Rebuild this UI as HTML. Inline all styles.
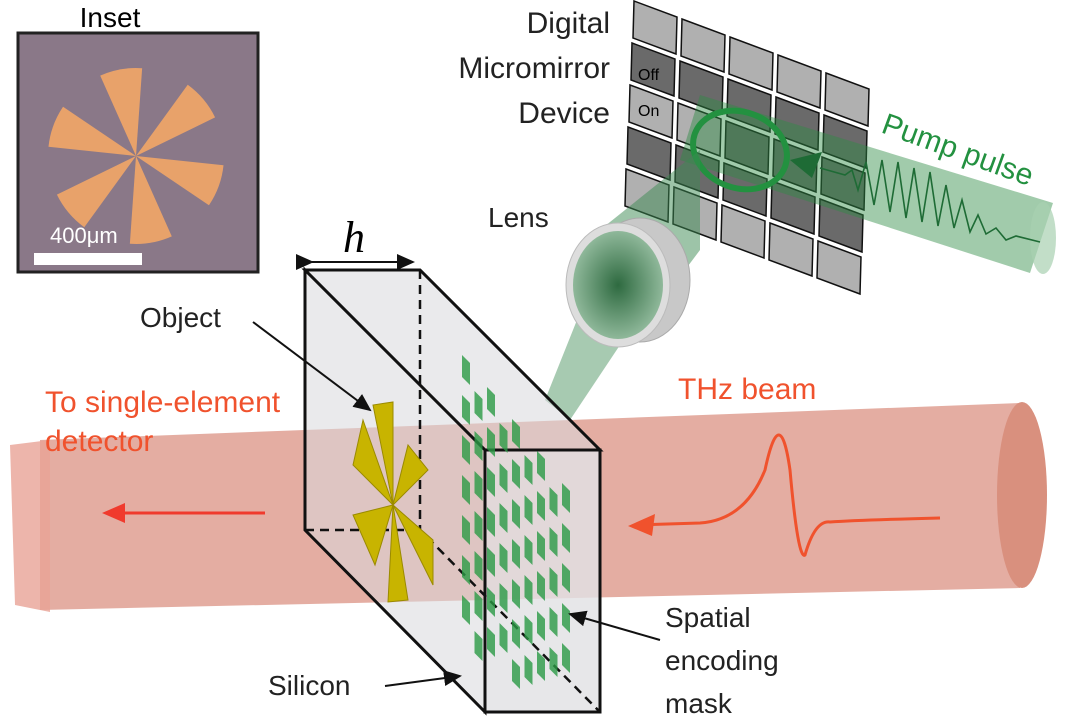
<!DOCTYPE html>
<html><head><meta charset="utf-8"><style>
body{margin:0;background:#fff;width:1070px;height:716px;overflow:hidden}
svg{display:block;font-family:"Liberation Sans",sans-serif}
</style></head><body>
<svg width="1070" height="716" viewBox="0 0 1070 716">
<defs>
<radialGradient id="lensg" cx="0.5" cy="0.5" r="0.5"><stop offset="0" stop-color="#2e6a40"/><stop offset="1" stop-color="#8fb89a"/></radialGradient>
<marker id="ak" markerWidth="10" markerHeight="10" refX="8" refY="5" orient="auto"><path d="M0,1 L9,5 L0,9 z" fill="#111"/></marker>
</defs>

<!-- Inset -->
<g>
<text x="110" y="27" font-size="28" text-anchor="middle">Inset</text>
<rect x="18" y="33" width="240" height="239" fill="#8a7888" stroke="#222" stroke-width="3"/>
<g id="insetBlades" fill="#e8a26a"></g>
<text x="50" y="243" font-size="22" fill="#fff">400μm</text>
<rect x="34" y="253" width="108" height="12" fill="#fff"/>
</g>

<!-- DMD labels -->
<g font-size="30" text-anchor="end" fill="#222">
<text x="610" y="33">Digital</text><text x="610" y="78">Micromirror</text><text x="610" y="123">Device</text>
</g>

<g id="dmd"></g>

<!-- pump beam -->
<path d="M700,95 L1053,203 L1030,273 L680,160 Z" fill="#2e8b45" opacity="0.45"/>
<ellipse cx="1043" cy="238" rx="13" ry="36" fill="#a8d0b0" opacity="0.7"/>
<path d="M820,168 L845,175 L852,170 858,190 866,162 874,205 882,160 890,212 898,162 906,218 914,168 922,222 930,172 938,226 946,185 954,228 962,200 970,232 978,215 986,234 996,228 1006,240 1016,236 1040,242" fill="none" stroke="#1e6b35" stroke-width="1.6"/>
<path d="M790,160 L822,152 L812,178 Z" fill="#1e6b35"/>
<ellipse cx="740" cy="150" rx="48" ry="38" transform="rotate(20 740 150)" fill="none" stroke="#239140" stroke-width="6"/>
<text x="880" y="132" font-size="30" fill="#239140" transform="rotate(20 880 132)">Pump pulse</text>

<!-- lens + cone -->
<path d="M600,230 L700,150 L700,250 L640,330 Z" fill="#3c8a52" opacity="0.5"/>
<path d="M585,300 L650,300 L570,420 L545,400 Z" fill="#3c8a52" opacity="0.45"/>
<ellipse cx="640" cy="280" rx="50" ry="62" fill="#c8c8c8" stroke="#aaa"/>
<ellipse cx="618" cy="285" rx="52" ry="62" fill="#ddd" stroke="#bbb"/>
<ellipse cx="618" cy="285" rx="45" ry="54" fill="url(#lensg)"/>
<text x="488" y="227" font-size="28" fill="#222">Lens</text>

<!-- THz beam -->
<path d="M40,440 L1020,403 L1020,588 L40,610 Z" fill="#d98a7a" opacity="0.7"/>
<ellipse cx="1022" cy="495" rx="25" ry="93" fill="#d9907e"/>
<path d="M10,445 L50,440 L50,612 L15,605 Z" fill="#e8a296" opacity="0.8"/>
<text x="678" y="399" font-size="30" fill="#f0522d">THz beam</text>
<text x="45" y="412" font-size="30" fill="#f0522d">To single-element</text>
<text x="45" y="451" font-size="30" fill="#f0522d">detector</text>
<path d="M635,525 L700,523 Q745,520 765,470 Q780,400 790,470 Q798,560 805,555 Q815,520 830,522 Q860,520 940,518" fill="none" stroke="#f0522d" stroke-width="3"/>
<path d="M628,526 L655,514 L652,536 Z" fill="#f0522d"/>
<line x1="265" y1="513" x2="120" y2="513" stroke="#f03a2d" stroke-width="3"/>
<path d="M102,513 L125,503 L125,523 Z" fill="#f03a2d"/>

<!-- slab -->
<g>
<path d="M305,270 L420,270 L600,450 L600,712 L485,712 L305,530 Z" fill="#d8d8dc" opacity="0.55"/>
<path d="M485,450 L600,450 L600,712 L485,712 Z" fill="#e4e4e8" opacity="0.6"/>
<path d="M305,270 L420,270 L600,450 L485,450 Z M305,270 L305,530 L485,712 L485,450 Z" fill="none" stroke="#111" stroke-width="3"/>
<rect x="485" y="450" width="115" height="262" fill="none" stroke="#111" stroke-width="3"/>
<path d="M420,270 L420,530 L600,712 M305,530 L420,530" fill="none" stroke="#111" stroke-width="2.5" stroke-dasharray="9,6"/>
</g>
<g id="mask"></g>
<!-- object -->
<g fill="#c8b400" stroke="#9a8a00" transform="translate(393,505)">
<path d="M0,0 L-20,-100 L0,-103 Z"/><path d="M0,0 L15,-60 L35,-35 Z"/><path d="M0,0 L40,35 L40,80 Z"/>
<path d="M0,0 L15,95 L-5,97 Z"/><path d="M0,0 L-18,60 L-40,10 Z"/><path d="M0,0 L-40,-40 L-30,-85 Z"/>
</g>
<g font-size="44" font-family="Liberation Serif,serif" font-style="italic"><text x="343" y="252">h</text></g>
<path d="M312,262 L413,262" stroke="#111" stroke-width="2" marker-end="url(#ak)" marker-start="url(#ak)"/>

<g font-size="28" fill="#222">
<text x="140" y="327">Object</text>
<text x="268" y="695">Silicon</text>
<text x="665" y="627">Spatial</text>
<text x="665" y="670">encoding</text>
<text x="665" y="713">mask</text>
</g>
<g stroke="#111" stroke-width="2" fill="none">
<path d="M253,322 L370,410" marker-end="url(#ak)"/>
<path d="M385,686 L460,676" marker-end="url(#ak)"/>
<path d="M660,640 L570,614" marker-end="url(#ak)"/>
</g>
</svg>
<script>
const NS='http://www.w3.org/2000/svg';
const dmd=document.getElementById('dmd');
const pattern=[[0,0,0,0,0],[1,1,1,1,1],[0,0,1,1,1],[1,1,1,1,1],[0,0,0,0,0]];
for(let r=0;r<5;r++)for(let c=0;c<5;c++){
 const x=634+c*48-r*2,y=1+c*18+r*42;
 const p=document.createElementNS(NS,'path');
 p.setAttribute('d',`M${x},${y} L${x+43},${y+16} L${x+42},${y+53} L${x-1},${y+37} Z`);
 p.setAttribute('fill',pattern[r][c]?'#6a6a6a':'#b0b0b0');
 p.setAttribute('stroke','#111');p.setAttribute('stroke-width','1.5');
 
 
 dmd.appendChild(p);
}
const t1=document.createElementNS(NS,'text');t1.setAttribute('x',638);t1.setAttribute('y',80);t1.setAttribute('font-size',16);t1.textContent='Off';


dmd.appendChild(t1);
const t2=document.createElementNS(NS,'text');t2.setAttribute('x',638);t2.setAttribute('y',116);t2.setAttribute('font-size',16);t2.textContent='On';


dmd.appendChild(t2);
// inset blades
const ib=document.getElementById('insetBlades');
const cx=136,cy=156,R=88;
for(let k=0;k<6;k++){
 const a1=(-114+k*60)*Math.PI/180,a2=(-86+k*60)*Math.PI/180;
 const p=document.createElementNS(NS,'path');
 p.setAttribute('d',`M${cx},${cy} L${cx+R*Math.cos(a1)},${cy+R*Math.sin(a1)} A${R},${R} 0 0 1 ${cx+R*Math.cos(a2)},${cy+R*Math.sin(a2)} Z`);
 
 
 ib.appendChild(p);
}
const mask=document.getElementById('mask');
for(let r=0;r<14;r++)for(let c=0;c<9;c++){
 if((r+c)%2)continue;
 const x=462+c*12.5,y=355+c*16+r*20;
 if(y>660)continue;
 const p=document.createElementNS(NS,'path');
 p.setAttribute('d',`M${x},${y} L${x+8},${y+8} L${x+8},${y+30} L${x},${y+22} Z`);
 p.setAttribute('fill','#2a9a45');p.setAttribute('opacity','0.8');
 
 
 mask.appendChild(p);
}
</script>
</body></html>
